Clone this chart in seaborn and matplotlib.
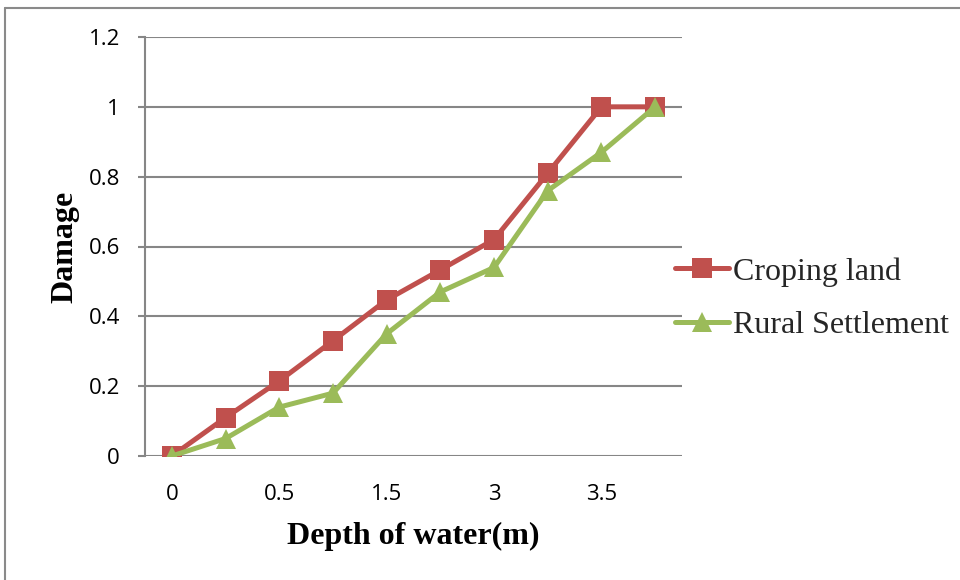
import matplotlib
matplotlib.use("Agg")
import matplotlib.pyplot as plt
from matplotlib.lines import Line2D
from matplotlib.ticker import FuncFormatter
import seaborn as sns
import pandas as pd

# ---- data ----
x_tick_labels = ["0", "", "0.5", "", "1.5", "", "3", "", "3.5", ""]
series_names = ["Croping land", "Rural Settlement"]
croping_land = [0.0, 0.11, 0.215, 0.33, 0.447, 0.533, 0.62, 0.81, 1.0, 1.0]
rural_settlement = [0.0, 0.05, 0.14, 0.18, 0.35, 0.47, 0.54, 0.76, 0.87, 1.0]
y_ticks = [0, 0.2, 0.4, 0.6, 0.8, 1.0, 1.2]

positions = list(range(len(x_tick_labels)))
df = pd.DataFrame({
    "pos": positions * 2,
    "Damage": croping_land + rural_settlement,
    "series": [series_names[0]] * len(positions) + [series_names[1]] * len(positions),
})

sns.set_theme(style="white")
plt.rcParams["font.family"] = ["Open Sans", "DejaVu Sans"]

fig = plt.figure(figsize=(9.6, 5.8), dpi=100)
ax = fig.add_axes([145 / 960, 1 - 456 / 580, (682 - 145) / 960, (456 - 37) / 580])

palette = {series_names[0]: "#C0504D", series_names[1]: "#9BBB59"}
markers = {series_names[0]: "s", series_names[1]: "^"}
sns.lineplot(data=df, x="pos", y="Damage", hue="series", style="series",
             palette=palette, markers=markers, dashes=False, linewidth=3.6,
             markersize=14.5, markeredgewidth=0, ax=ax, legend=True, zorder=3)

grid_c = "#868686"
ax.set_xlim(-0.5, len(positions) - 0.5)
ax.set_ylim(0, 1.2)
ax.set_yticks(y_ticks)
ax.yaxis.set_major_formatter(FuncFormatter(lambda v, p: f"{v:g}"))
ax.set_xticks(positions)
ax.set_xticklabels(x_tick_labels)
ax.grid(axis="y", color=grid_c, linewidth=1.5)
ax.grid(axis="x", visible=False)
for s in ["top", "right", "bottom"]:
    ax.spines[s].set_visible(False)
ax.spines["left"].set_color(grid_c)
ax.spines["left"].set_linewidth(1.5)
ax.tick_params(axis="y", length=5, width=1.5, color=grid_c, direction="out",
               pad=13, labelsize=16, labelcolor="black", left=True)
ax.tick_params(axis="x", length=0, pad=20, labelsize=16, labelcolor="black")

ax.set_xlabel("Depth of water(m)", family="Liberation Serif", fontweight="bold",
              fontsize=23, color="black")
ax.set_ylabel("Damage", family="Liberation Serif", fontweight="bold",
              fontsize=23, color="black")
ax.xaxis.set_label_coords(0.5, -0.157)
ax.yaxis.set_label_coords(-0.122, 0.5)

handles, labels = ax.get_legend_handles_labels()
leg = ax.legend(handles, labels, loc="center left", bbox_to_anchor=(0.987, 0.376),
                frameon=False, borderpad=0, borderaxespad=0, handlelength=1.7,
                handletextpad=0.1, labelspacing=0.75,
                prop={"family": "Liberation Serif", "size": 23})
for h in leg.legend_handles:
    h.set_markersize(14.5)
    h.set_linewidth(3.6)

# outer frame lines (top and left) like the reference
fig.add_artist(Line2D([5 / 960, 1.0], [1 - 8 / 580, 1 - 8 / 580],
                      transform=fig.transFigure, color="#8a8a8a", linewidth=1.5))
fig.add_artist(Line2D([5 / 960, 5 / 960], [0.0, 1 - 8 / 580],
                      transform=fig.transFigure, color="#8a8a8a", linewidth=1.5))

fig.savefig("out.png", dpi=100)
